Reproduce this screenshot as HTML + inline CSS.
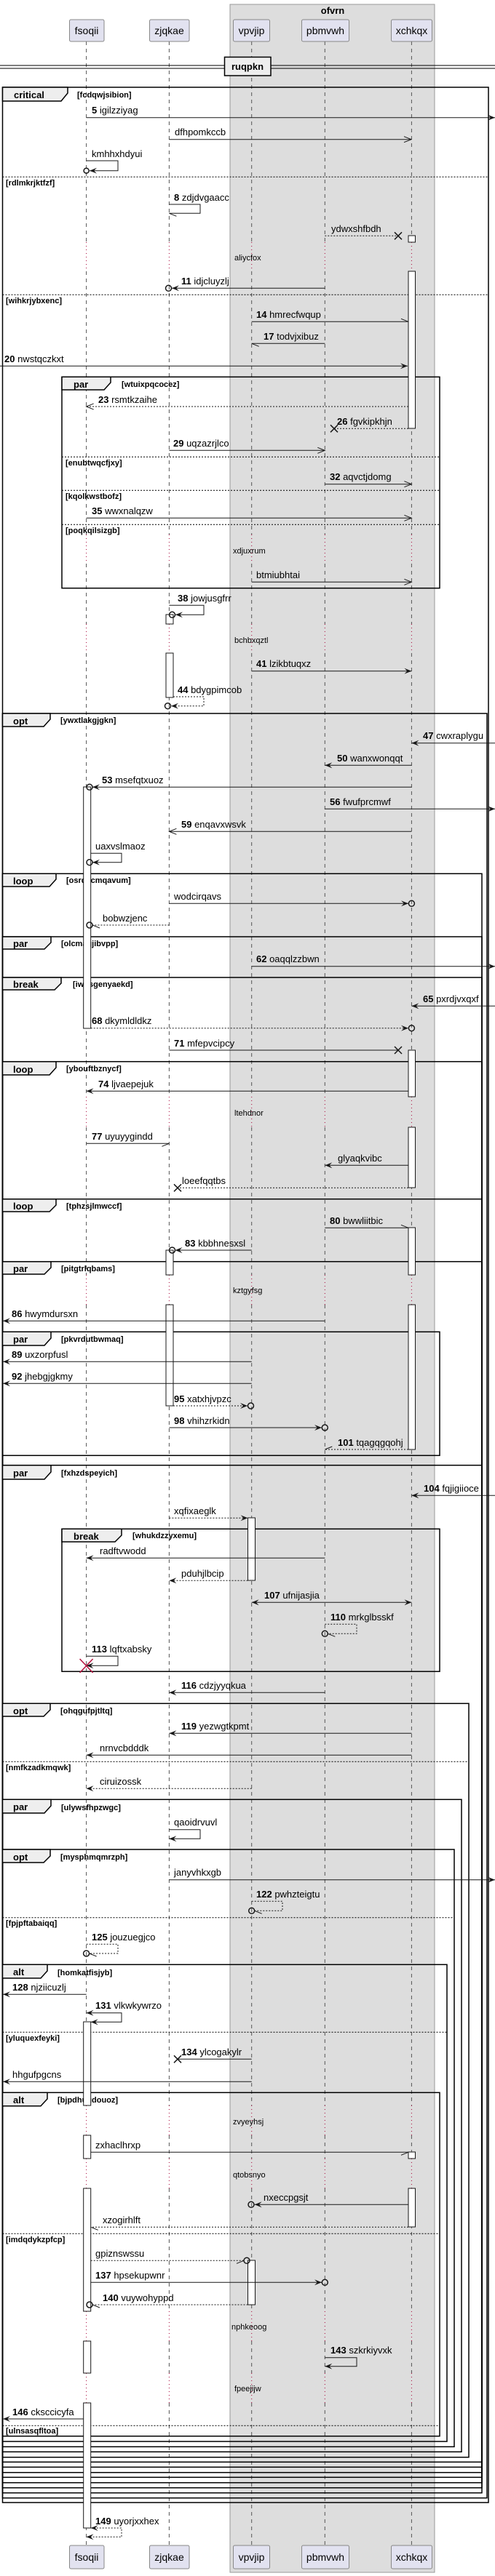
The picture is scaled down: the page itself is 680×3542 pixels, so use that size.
<!DOCTYPE html>
<html><head><meta charset="utf-8"><style>
html,body{margin:0;padding:0;background:#fff}
svg{display:block}
text{font-family:"Liberation Sans",sans-serif;fill:#000}
.m{font-size:13px}
.g{font-size:11px;font-weight:bold}
.t{font-size:13px;font-weight:bold}
.dl{font-size:11px}
.s{stroke:#181818;stroke-width:1;fill:none}
.d{stroke:#181818;stroke-width:1;fill:none;stroke-dasharray:2,2}
.fr{stroke:#000;stroke-width:1.5;fill:none}
.tab{stroke:#000;stroke-width:1.5;fill:#eee}
.sep{stroke:#000;stroke-width:1;stroke-dasharray:2,2}
.act{fill:#fff;stroke:#181818;stroke-width:1}
.ci{fill:none;stroke:#181818;stroke-width:1.5}
.x{stroke:#181818;stroke-width:1.5}
</style></head><body>
<svg width="680" height="3542" viewBox="0 0 680 3542" xmlns="http://www.w3.org/2000/svg">
<defs>
<marker id="f" viewBox="0 0 10 8" refX="10" refY="4" markerWidth="10" markerHeight="8" markerUnits="userSpaceOnUse" orient="auto-start-reverse"><path d="M0,0L10,4L0,8L4,4z" fill="#181818"/></marker>
<marker id="o" viewBox="-1 -1 12 10" refX="10" refY="4" markerWidth="12" markerHeight="10" markerUnits="userSpaceOnUse" orient="auto"><path d="M0,0L10,4L0,8" fill="none" stroke="#181818" stroke-width="1"/></marker>
<marker id="hu" viewBox="-1 -1 12 10" refX="10" refY="4" markerWidth="12" markerHeight="10" markerUnits="userSpaceOnUse" orient="auto"><path d="M0,0L10,4" fill="none" stroke="#181818" stroke-width="1"/></marker>
<marker id="hl" viewBox="-1 -1 12 10" refX="10" refY="4" markerWidth="12" markerHeight="10" markerUnits="userSpaceOnUse" orient="auto"><path d="M0,8L10,4" fill="none" stroke="#181818" stroke-width="1"/></marker>
<path id="ll" d="M0,57V333M0,373V735M0,775V858M0,898V1508M0,1550V1753M0,1794V2895M0,2936V2968M0,3009V3178M0,3219V3263M0,3304V3500"/>
<path id="dl" d="M0,333V373M0,735V775M0,858V898M0,1508V1550M0,1753V1794M0,2895V2936M0,2968V3009M0,3178V3219M0,3263V3304"/>
</defs>

<!-- group -->
<rect x="316" y="6" width="281" height="3531" fill="#dddddd" stroke="#999" stroke-width="1"/>
<text x="457" y="19" text-anchor="middle" class="t">ofvrn</text>

<!-- lifelines -->
<g stroke="#555" stroke-width="1" stroke-dasharray="5,5" fill="none">
<use href="#ll" x="118.6"/><use href="#ll" x="232.4"/><use href="#ll" x="345.7"/><use href="#ll" x="446.3"/><use href="#ll" x="565.4"/>
</g>
<g stroke="#a80036" stroke-width="1" stroke-dasharray="1,4" fill="none">
<use href="#dl" x="118.6"/><use href="#dl" x="232.4"/><use href="#dl" x="345.7"/><use href="#dl" x="446.3"/><use href="#dl" x="565.4"/>
</g>

<!-- participants -->
<g fill="#e2e2f0" stroke="#888" stroke-width="1">
<rect x="95.5" y="27" width="47.5" height="30" rx="2"/>
<rect x="205.5" y="27" width="54.5" height="30" rx="2"/>
<rect x="320.5" y="27" width="50" height="30" rx="2"/>
<rect x="414.5" y="27" width="65" height="30" rx="2"/>
<rect x="537.5" y="27" width="56" height="30" rx="2"/>
<rect x="95.5" y="3500" width="47.5" height="32" rx="2"/>
<rect x="205.5" y="3500" width="54.5" height="32" rx="2"/>
<rect x="320.5" y="3500" width="50" height="32" rx="2"/>
<rect x="414.5" y="3500" width="65" height="32" rx="2"/>
<rect x="537.5" y="3500" width="56" height="32" rx="2"/>
</g>
<g font-size="14" text-anchor="middle">
<text x="119" y="47" font-size="14">fsoqii</text><text x="232.5" y="47" font-size="14">zjqkae</text><text x="345.5" y="47" font-size="14">vpvjip</text><text x="447" y="47" font-size="14">pbmvwh</text><text x="565.5" y="47" font-size="14">xchkqx</text>
<text x="119" y="3521" font-size="14">fsoqii</text><text x="232.5" y="3521" font-size="14">zjqkae</text><text x="345.5" y="3521" font-size="14">vpvjip</text><text x="447" y="3521" font-size="14">pbmvwh</text><text x="565.5" y="3521" font-size="14">xchkqx</text>
</g>

<!-- divider -->
<line x1="0" y1="90" x2="680" y2="90" stroke="#000" stroke-width="1"/>
<line x1="0" y1="94" x2="680" y2="94" stroke="#000" stroke-width="1"/>
<rect x="308.5" y="78.5" width="63.5" height="25.5" fill="#eee" stroke="#000" stroke-width="1.5"/>
<text x="340" y="96" text-anchor="middle" class="t">ruqpkn</text>

<!-- frames -->
<rect class="fr" x="3.5" y="120" width="667.5" height="3321"/>
<rect class="fr" x="3.5" y="981" width="665.5" height="2453.7"/>
<rect class="fr" x="3.5" y="1201.3" width="658.5" height="2226.4"/>
<rect class="fr" x="3.5" y="1288" width="658.5" height="2132.7"/>
<rect class="fr" x="3.5" y="1344" width="658.5" height="2069.7"/>
<rect class="fr" x="3.5" y="1459.7" width="658.5" height="1946.6"/>
<rect class="fr" x="3.5" y="1648.7" width="658.5" height="1751"/>
<rect class="fr" x="3.5" y="1734.7" width="658.5" height="1657.6"/>
<rect class="fr" x="3.5" y="2014.7" width="658.5" height="1370.6"/>
<rect class="fr" x="85" y="518.3" width="519" height="290.4"/>
<rect class="fr" x="3.5" y="1831.3" width="600.5" height="170"/>
<rect class="fr" x="85" y="2102.3" width="519" height="196"/>
<rect class="fr" x="3.5" y="2342.3" width="640.5" height="1036.4"/>
<rect class="fr" x="3.5" y="2474.3" width="630.5" height="897"/>
<rect class="fr" x="3.5" y="2543" width="620.5" height="821.3"/>
<rect class="fr" x="3.5" y="2701.3" width="610.5" height="655.7"/>
<rect class="fr" x="3.5" y="2877.3" width="600.5" height="472.4"/>

<!-- separators -->
<line class="sep" x1="3.5" y1="243.3" x2="671" y2="243.3"/>
<line class="sep" x1="3.5" y1="405.3" x2="671" y2="405.3"/>
<line class="sep" x1="85" y1="628.3" x2="604" y2="628.3"/>
<line class="sep" x1="85" y1="674.3" x2="604" y2="674.3"/>
<line class="sep" x1="85" y1="721.3" x2="604" y2="721.3"/>
<line class="sep" x1="3.5" y1="2422.3" x2="644" y2="2422.3"/>
<line class="sep" x1="3.5" y1="2636.7" x2="624" y2="2636.7"/>
<line class="sep" x1="3.5" y1="2794.3" x2="614" y2="2794.3"/>
<line class="sep" x1="3.5" y1="3071.3" x2="604" y2="3071.3"/>
<line class="sep" x1="3.5" y1="3335.3" x2="604" y2="3335.3"/>

<!-- tabs -->
<g class="tab">
<path d="M3.5,120H93V128L84,139H3.5Z"/>
<path d="M85,518.3H152V526L143,536H85Z"/>
<path d="M3.5,981H69V989L60,999H3.5Z"/>
<path d="M3.5,1201.3H77V1209L68,1219H3.5Z"/>
<path d="M3.5,1288H70V1296L61,1305H3.5Z"/>
<path d="M3.5,1344H84V1352L75,1361H3.5Z"/>
<path d="M3.5,1459.7H77V1468L68,1478H3.5Z"/>
<path d="M3.5,1648.7H77V1657L68,1666H3.5Z"/>
<path d="M3.5,1734.7H70V1743L61,1752H3.5Z"/>
<path d="M3.5,1831.3H70V1840L61,1850H3.5Z"/>
<path d="M3.5,2014.7H70V2024L61,2034H3.5Z"/>
<path d="M85,2102.3H167V2111L158,2120H85Z"/>
<path d="M3.5,2342.3H69V2351L60,2360H3.5Z"/>
<path d="M3.5,2474.3H70V2483L61,2493H3.5Z"/>
<path d="M3.5,2543H69V2552L60,2561H3.5Z"/>
<path d="M3.5,2701.3H65V2710L56,2720H3.5Z"/>
<path d="M3.5,2877.3H65V2886L56,2895.7H3.5Z"/>
</g>
<g class="t">
<text x="19" y="135" class="t">critical</text>
<text x="101" y="533" class="t">par</text>
<text x="18" y="996" class="t">opt</text>
<text x="18" y="1216" class="t">loop</text>
<text x="18" y="1302" class="t">par</text>
<text x="18" y="1358" class="t">break</text>
<text x="18" y="1475" class="t">loop</text>
<text x="18" y="1663" class="t">loop</text>
<text x="18" y="1749" class="t">par</text>
<text x="18" y="1846" class="t">par</text>
<text x="18" y="2030" class="t">par</text>
<text x="101" y="2117" class="t">break</text>
<text x="18" y="2357" class="t">opt</text>
<text x="18" y="2489" class="t">par</text>
<text x="18" y="2558" class="t">opt</text>
<text x="18" y="2716" class="t">alt</text>
<text x="18" y="2892" class="t">alt</text>
</g>
<g>
<text class="g" x="106" y="134">[fcdqwjsibion]</text>
<text class="g" x="8" y="255">[rdlmkrjktfzf]</text>
<text class="g" x="8" y="417">[wihkrjybxenc]</text>
<text class="g" x="167" y="532">[wtuixpqcocez]</text>
<text class="g" x="90" y="640">[enubtwqcfjxy]</text>
<text class="g" x="90" y="686">[kqolkwstbofz]</text>
<text class="g" x="90" y="733">[poqkqilsizgb]</text>
<text class="g" x="83" y="994">[ywxtlakgjgkn]</text>
<text class="g" x="91" y="1214">[osrqxcmqavum]</text>
<text class="g" x="84" y="1301">[olcmagjibvpp]</text>
<text class="g" x="100" y="1357">[iwhsgenyaekd]</text>
<text class="g" x="91" y="1473">[ybouftbznycf]</text>
<text class="g" x="91" y="1662">[tphzsjlmwccf]</text>
<text class="g" x="84" y="1748">[pitgtrlqbams]</text>
<text class="g" x="84" y="1845">[pkvrdutbwmaq]</text>
<text class="g" x="84" y="2029">[fxhzdspeyich]</text>
<text class="g" x="182" y="2115">[whukdzzyxemu]</text>
<text class="g" x="83" y="2356">[ohqgufpjtltq]</text>
<text class="g" x="8" y="2434">[nmfkzadkmqwk]</text>
<text class="g" x="84" y="2489">[ulywsfhpzwgc]</text>
<text class="g" x="83" y="2557">[mysphmqmrzph]</text>
<text class="g" x="8" y="2648">[fpjpftabaiqq]</text>
<text class="g" x="79" y="2716">[homkatfisjyb]</text>
<text class="g" x="8" y="2806">[yluquexfeyki]</text>
<text class="g" x="79" y="2891">[bjpdhugdouoz]</text>
<text class="g" x="8" y="3083">[imdqdykzpfcp]</text>
<text class="g" x="8" y="3346">[ulnsasqfltoa]</text>
</g>

<!-- delay texts -->
<text class="dl" x="322" y="358">aliycfox</text>
<text class="dl" x="320" y="761">xdjuxrum</text>
<text class="dl" x="322" y="884">bchbxqztl</text>
<text class="dl" x="322" y="1534">ltehdnor</text>
<text class="dl" x="320" y="1778">kztgyfsg</text>
<text class="dl" x="320" y="2921">zvyeyhsj</text>
<text class="dl" x="320" y="2994">qtobsnyo</text>
<text class="dl" x="318" y="3203">nphkeoog</text>
<text class="dl" x="322" y="3288">fpeejijw</text>

<!-- activations -->
<g class="act">
<rect x="561" y="324" width="9.5" height="9"/>
<rect x="561" y="373" width="9.5" height="216"/>
<rect x="228" y="845" width="10" height="13"/>
<rect x="228" y="898" width="10" height="61"/>
<rect x="114.7" y="1082" width="10" height="332"/>
<rect x="561" y="1444" width="9.5" height="64"/>
<rect x="561" y="1550" width="9.5" height="83"/>
<rect x="561" y="1688" width="9.5" height="65"/>
<rect x="561" y="1794" width="9.5" height="199"/>
<rect x="228" y="1719" width="10" height="34"/>
<rect x="228" y="1794" width="10" height="139"/>
<rect x="340.5" y="2087" width="10" height="86"/>
<rect x="114.7" y="2780" width="10" height="115"/>
<rect x="114.7" y="2936" width="10" height="32"/>
<rect x="114.7" y="3009" width="10" height="169"/>
<rect x="114.7" y="3219" width="10" height="44"/>
<rect x="114.7" y="3304" width="10" height="172"/>
<rect x="561" y="2959" width="9.5" height="9"/>
<rect x="561" y="3009" width="9.5" height="53"/>
<rect x="340.5" y="3108" width="10" height="61"/>
</g>

<!-- messages -->
<g>
<line class="s" x1="118.6" y1="161.7" x2="680" y2="161.7" marker-end="url(#f)"/>
<line class="s" x1="232.4" y1="191.7" x2="565" y2="191.7" marker-end="url(#o)"/>
<path class="s" d="M118.6,221H162V234.7H123" marker-end="url(#f)"/><circle class="ci" cx="118.6" cy="234.7" r="3.5"/>
<path class="s" d="M232.4,281H275V293.3H232.4" marker-end="url(#hu)"/>
<line class="d" x1="446.3" y1="324.3" x2="547" y2="324.3"/>
<line class="s" x1="446.3" y1="396.3" x2="236" y2="396.3" marker-end="url(#f)"/><circle class="ci" cx="231.5" cy="396.3" r="4"/>
<line class="s" x1="345.7" y1="442.3" x2="561" y2="442.3" marker-end="url(#hu)"/>
<line class="s" x1="446.3" y1="472.3" x2="345.7" y2="472.3" marker-end="url(#hu)"/>
<line class="s" x1="0" y1="503.3" x2="560" y2="503.3" marker-end="url(#f)"/>
<line class="d" x1="561" y1="559" x2="118.6" y2="559" marker-end="url(#o)"/>
<line class="d" x1="561" y1="589.3" x2="459" y2="589.3"/>
<line class="s" x1="232.4" y1="619.3" x2="446.3" y2="619.3" marker-end="url(#o)"/>
<line class="s" x1="446.3" y1="665.7" x2="565.4" y2="665.7" marker-end="url(#o)"/>
<line class="s" x1="118.6" y1="712.3" x2="565.4" y2="712.3" marker-end="url(#o)"/>
<line class="s" x1="345.7" y1="800.3" x2="565.4" y2="800.3" marker-end="url(#o)"/>
<path class="s" d="M232.4,832.3H280V845.3H241" marker-end="url(#f)"/><circle class="ci" cx="236.5" cy="845.3" r="4"/>
<line class="s" x1="345.7" y1="922.7" x2="565.4" y2="922.7" marker-end="url(#f)"/>
<path class="d" d="M238,958H280V970.7H235" marker-end="url(#f)"/><circle class="ci" cx="230.5" cy="970.7" r="4"/>
<line class="s" x1="680" y1="1021.7" x2="565.4" y2="1021.7" marker-end="url(#f)"/>
<line class="s" x1="565.4" y1="1052.3" x2="446.3" y2="1052.3" marker-end="url(#f)"/>
<line class="s" x1="565.4" y1="1082.3" x2="127" y2="1082.3" marker-end="url(#f)"/><circle class="ci" cx="123" cy="1082.3" r="4"/>
<line class="s" x1="446.3" y1="1112.3" x2="680" y2="1112.3" marker-end="url(#f)"/>
<line class="s" x1="565.4" y1="1143.3" x2="232.4" y2="1143.3" marker-end="url(#o)"/>
<path class="s" d="M124.7,1173.3H167V1185.7H127" marker-end="url(#f)"/><circle class="ci" cx="123" cy="1185.7" r="4"/>
<line class="s" x1="232.4" y1="1242.3" x2="561" y2="1242.3" marker-end="url(#f)"/><circle class="ci" cx="565.4" cy="1242.3" r="4"/>
<line class="d" x1="232.4" y1="1272" x2="127" y2="1272" marker-end="url(#hu)"/><circle class="ci" cx="123" cy="1272" r="4"/>
<line class="s" x1="345.7" y1="1328.7" x2="680" y2="1328.7" marker-end="url(#f)"/>
<line class="s" x1="680" y1="1383.3" x2="565.4" y2="1383.3" marker-end="url(#f)"/>
<line class="d" x1="124.7" y1="1413.7" x2="561" y2="1413.7" marker-end="url(#f)"/><circle class="ci" cx="565.4" cy="1413.7" r="4"/>
<line class="s" x1="232.4" y1="1444" x2="547" y2="1444"/>
<line class="s" x1="561" y1="1500.3" x2="118.6" y2="1500.3" marker-end="url(#f)"/>
<line class="s" x1="118.6" y1="1572.3" x2="232.4" y2="1572.3" marker-end="url(#hl)"/>
<line class="s" x1="561" y1="1602.3" x2="446.3" y2="1602.3" marker-end="url(#f)"/>
<line class="d" x1="561" y1="1633.3" x2="244" y2="1633.3"/>
<line class="s" x1="446.3" y1="1688.3" x2="561" y2="1688.3" marker-end="url(#hu)"/>
<line class="s" x1="345.7" y1="1719" x2="240.5" y2="1719" marker-end="url(#f)"/><circle class="ci" cx="236.5" cy="1719" r="4"/>
<line class="s" x1="446.3" y1="1816.3" x2="4" y2="1816.3" marker-end="url(#f)"/>
<line class="s" x1="345.7" y1="1872.3" x2="4" y2="1872.3" marker-end="url(#f)"/>
<line class="s" x1="345.7" y1="1902.3" x2="4" y2="1902.3" marker-end="url(#f)"/>
<line class="d" x1="238" y1="1933" x2="340" y2="1933" marker-end="url(#f)"/><circle class="ci" cx="344.5" cy="1933" r="4"/>
<line class="s" x1="232.4" y1="1963" x2="442" y2="1963" marker-end="url(#f)"/><circle class="ci" cx="446.3" cy="1963" r="4"/>
<line class="d" x1="561" y1="1993" x2="446.3" y2="1993" marker-end="url(#hl)"/>
<line class="s" x1="680" y1="2056.3" x2="565.4" y2="2056.3" marker-end="url(#f)"/>
<line class="d" x1="232.4" y1="2087.3" x2="340.5" y2="2087.3" marker-end="url(#f)"/>
<line class="s" x1="446.3" y1="2142.3" x2="118.6" y2="2142.3" marker-end="url(#f)"/>
<line class="d" x1="340.5" y1="2173.3" x2="232.4" y2="2173.3" marker-end="url(#f)"/>
<line class="s" x1="345.7" y1="2203.3" x2="565.4" y2="2203.3" marker-start="url(#f)" marker-end="url(#f)"/>
<path class="d" d="M446.3,2233.3H490V2246.3H450.3" marker-end="url(#hu)"/><circle class="ci" cx="446.3" cy="2246.3" r="4"/>
<path class="s" d="M118.6,2277.3H162V2290.3H118.6" marker-end="url(#f)"/>
<line class="s" x1="446.3" y1="2327.3" x2="232.4" y2="2327.3" marker-end="url(#f)"/>
<line class="s" x1="565.4" y1="2383.3" x2="232.4" y2="2383.3" marker-end="url(#f)"/>
<line class="s" x1="565.4" y1="2413.3" x2="118.6" y2="2413.3" marker-end="url(#f)"/>
<line class="d" x1="345.7" y1="2459.3" x2="118.6" y2="2459.3" marker-end="url(#f)"/>
<path class="s" d="M232.4,2515.7H275V2528.3H232.4" marker-end="url(#f)"/>
<line class="s" x1="232.4" y1="2584.7" x2="680" y2="2584.7" marker-end="url(#f)"/>
<path class="d" d="M345.7,2614.3H388V2627.3H349.7" marker-end="url(#hu)"/><circle class="ci" cx="345.7" cy="2627.3" r="4"/>
<path class="d" d="M118.6,2673.3H162V2686H122.6" marker-end="url(#hu)"/><circle class="ci" cx="118.6" cy="2686" r="4"/>
<line class="s" x1="118.6" y1="2742.3" x2="4" y2="2742.3" marker-end="url(#f)"/>
<path class="s" d="M118.6,2767.7H167V2780.3H124.7" marker-start="url(#f)" marker-end="url(#f)"/>
<line class="s" x1="345.7" y1="2831.3" x2="244" y2="2831.3"/>
<line class="s" x1="345.7" y1="2862.3" x2="4" y2="2862.3" marker-end="url(#f)"/>
<line class="s" x1="124.7" y1="2959.3" x2="561" y2="2959.3" marker-end="url(#hl)"/>
<line class="s" x1="561" y1="3031.3" x2="349.7" y2="3031.3" marker-end="url(#f)"/><circle class="ci" cx="345" cy="3031.3" r="4"/>
<line class="d" x1="561" y1="3062.3" x2="124.7" y2="3062.3" marker-end="url(#hu)"/>
<line class="d" x1="124.7" y1="3108.3" x2="335" y2="3108.3" marker-end="url(#hl)"/><circle class="ci" cx="339" cy="3108.3" r="4"/>
<line class="s" x1="124.7" y1="3138.3" x2="442" y2="3138.3" marker-end="url(#f)"/><circle class="ci" cx="446.3" cy="3138.3" r="4"/>
<line class="d" x1="340.5" y1="3169" x2="127" y2="3169" marker-end="url(#hu)"/><circle class="ci" cx="123" cy="3169" r="4"/>
<path class="s" d="M446.3,3241.7H490V3253.7H446.3" marker-end="url(#f)"/>
<line class="s" x1="114.7" y1="3326" x2="4" y2="3326" marker-end="url(#f)"/>
<path class="d" d="M124.7,3476H167V3488.3H118.6" marker-start="url(#f)" marker-end="url(#f)"/>
</g>

<!-- X marks -->
<g class="x">
<path d="M542,319.3L552,329.3M552,319.3L542,329.3"/>
<path d="M454,584.3L464,594.3M464,584.3L454,594.3"/>
<path d="M542,1439L552,1449M552,1439L542,1449"/>
<path d="M239,1628.3L249,1638.3M249,1628.3L239,1638.3"/>
<path d="M239,2826.3L249,2836.3M249,2826.3L239,2836.3"/>
</g>
<path d="M109.6,2281L127.6,2300M127.6,2281L109.6,2300" stroke="#b5123e" stroke-width="1.5"/>

<!-- message labels -->
<g class="m">
<text class="m" x="126" y="156"><tspan font-weight="bold">5</tspan> igilzziyag</text>
<text class="m" x="240" y="186">dfhpomkccb</text>
<text class="m" x="126" y="216">kmhhxhdyui</text>
<text class="m" x="239" y="276"><tspan font-weight="bold">8</tspan> zdjdvgaacc</text>
<text class="m" x="455" y="319">ydwxshfbdh</text>
<text class="m" x="249" y="391"><tspan font-weight="bold">11</tspan> idjcluyzlj</text>
<text class="m" x="352" y="437"><tspan font-weight="bold">14</tspan> hmrecfwqup</text>
<text class="m" x="362" y="467"><tspan font-weight="bold">17</tspan> todvjxibuz</text>
<text class="m" x="6" y="498"><tspan font-weight="bold">20</tspan> nwstqczkxt</text>
<text class="m" x="135" y="554"><tspan font-weight="bold">23</tspan> rsmtkzaihe</text>
<text class="m" x="463" y="584"><tspan font-weight="bold">26</tspan> fgvkipkhjn</text>
<text class="m" x="238" y="614"><tspan font-weight="bold">29</tspan> uqzazrjlco</text>
<text class="m" x="453" y="660"><tspan font-weight="bold">32</tspan> aqvctjdomg</text>
<text class="m" x="126" y="707"><tspan font-weight="bold">35</tspan> wwxnalqzw</text>
<text class="m" x="352" y="795">btmiubhtai</text>
<text class="m" x="244" y="827"><tspan font-weight="bold">38</tspan> jowjusgfrr</text>
<text class="m" x="352" y="917"><tspan font-weight="bold">41</tspan> lzikbtuqxz</text>
<text class="m" x="244" y="953"><tspan font-weight="bold">44</tspan> bdygpimcob</text>
<text class="m" x="581" y="1016"><tspan font-weight="bold">47</tspan> cwxraplygu</text>
<text class="m" x="463" y="1047"><tspan font-weight="bold">50</tspan> wanxwonqqt</text>
<text class="m" x="140" y="1077"><tspan font-weight="bold">53</tspan> msefqtxuoz</text>
<text class="m" x="453" y="1107"><tspan font-weight="bold">56</tspan> fwufprcmwf</text>
<text class="m" x="249" y="1138"><tspan font-weight="bold">59</tspan> enqavxwsvk</text>
<text class="m" x="131" y="1168">uaxvslmaoz</text>
<text class="m" x="239" y="1237">wodcirqavs</text>
<text class="m" x="141" y="1267">bobwzjenc</text>
<text class="m" x="352" y="1323"><tspan font-weight="bold">62</tspan> oaqqlzzbwn</text>
<text class="m" x="581" y="1378"><tspan font-weight="bold">65</tspan> pxrdjvxqxf</text>
<text class="m" x="126" y="1408"><tspan font-weight="bold">68</tspan> dkymldldkz</text>
<text class="m" x="239" y="1439"><tspan font-weight="bold">71</tspan> mfepvcipcy</text>
<text class="m" x="135" y="1495"><tspan font-weight="bold">74</tspan> ljvaepejuk</text>
<text class="m" x="126" y="1567"><tspan font-weight="bold">77</tspan> uyuyygindd</text>
<text class="m" x="464" y="1597">glyaqkvibc</text>
<text class="m" x="250" y="1628">loeefqqtbs</text>
<text class="m" x="453" y="1683"><tspan font-weight="bold">80</tspan> bwwliitbic</text>
<text class="m" x="254" y="1714"><tspan font-weight="bold">83</tspan> kbbhnesxsl</text>
<text class="m" x="16" y="1811"><tspan font-weight="bold">86</tspan> hwymdursxn</text>
<text class="m" x="16" y="1867"><tspan font-weight="bold">89</tspan> uxzorpfusl</text>
<text class="m" x="16" y="1897"><tspan font-weight="bold">92</tspan> jhebgjgkmy</text>
<text class="m" x="239" y="1928"><tspan font-weight="bold">95</tspan> xatxhjvpzc</text>
<text class="m" x="239" y="1958"><tspan font-weight="bold">98</tspan> vhihzrkidn</text>
<text class="m" x="464" y="1988"><tspan font-weight="bold">101</tspan> tqagqgqohj</text>
<text class="m" x="582" y="2051"><tspan font-weight="bold">104</tspan> fqjigiioce</text>
<text class="m" x="239" y="2082">xqfixaeglk</text>
<text class="m" x="137" y="2137">radftvwodd</text>
<text class="m" x="249" y="2168">pduhjlbcip</text>
<text class="m" x="363" y="2198"><tspan font-weight="bold">107</tspan> ufnijasjia</text>
<text class="m" x="454" y="2228"><tspan font-weight="bold">110</tspan> mrkglbsskf</text>
<text class="m" x="126" y="2272"><tspan font-weight="bold">113</tspan> lqftxabsky</text>
<text class="m" x="249" y="2322"><tspan font-weight="bold">116</tspan> cdzjyyqkua</text>
<text class="m" x="249" y="2378"><tspan font-weight="bold">119</tspan> yezwgtkpmt</text>
<text class="m" x="137" y="2408">nrnvcbdddk</text>
<text class="m" x="137" y="2454">ciruizossk</text>
<text class="m" x="239" y="2510">qaoidrvuvl</text>
<text class="m" x="239" y="2579">janyvhkxgb</text>
<text class="m" x="352" y="2609"><tspan font-weight="bold">122</tspan> pwhzteigtu</text>
<text class="m" x="126" y="2668"><tspan font-weight="bold">125</tspan> jouzuegjco</text>
<text class="m" x="17" y="2737"><tspan font-weight="bold">128</tspan> njziicuzlj</text>
<text class="m" x="131" y="2762"><tspan font-weight="bold">131</tspan> vlkwkywrzo</text>
<text class="m" x="249" y="2826"><tspan font-weight="bold">134</tspan> ylcogakylr</text>
<text class="m" x="17" y="2857">hhgufpgcns</text>
<text class="m" x="131" y="2954">zxhaclhrxp</text>
<text class="m" x="362" y="3026">nxeccpgsjt</text>
<text class="m" x="141" y="3057">xzogirhlft</text>
<text class="m" x="131" y="3103">gpiznswssu</text>
<text class="m" x="131" y="3133"><tspan font-weight="bold">137</tspan> hpsekupwnr</text>
<text class="m" x="141" y="3164"><tspan font-weight="bold">140</tspan> vuywohyppd</text>
<text class="m" x="454" y="3236"><tspan font-weight="bold">143</tspan> szkrkiyvxk</text>
<text class="m" x="17" y="3321"><tspan font-weight="bold">146</tspan> cksccicyfa</text>
<text class="m" x="131" y="3471"><tspan font-weight="bold">149</tspan> uyorjxxhex</text>
</g>
</svg>
</body></html>
